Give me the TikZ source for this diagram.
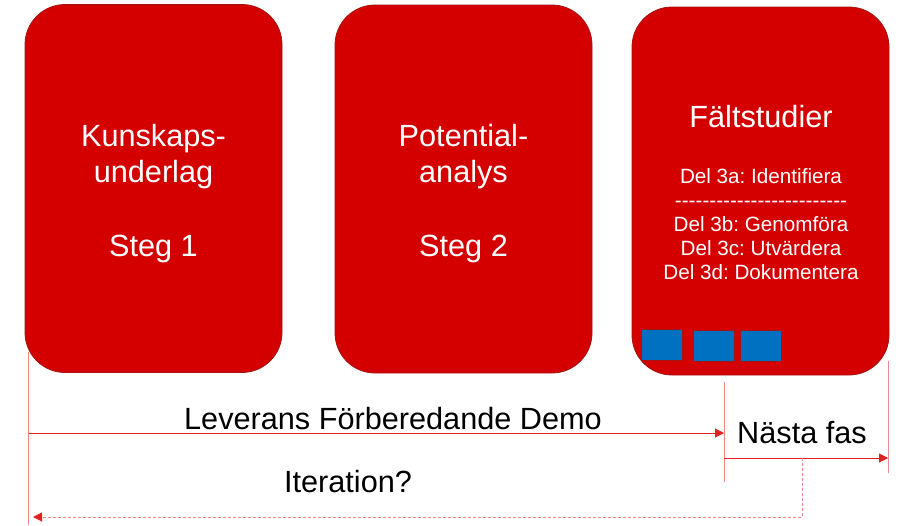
\documentclass[tikz,border=0pt]{standalone}
\usepackage{fontspec}
\setmainfont{Liberation Sans}
\usetikzlibrary{arrows.meta}
\frenchspacing

\definecolor{boxred}{RGB}{212,0,0}
\definecolor{edgered}{RGB}{165,20,20}
\definecolor{linered}{RGB}{226,32,32}
\definecolor{palered}{RGB}{240,135,135}
\definecolor{tileblue}{RGB}{0,112,192}

% row of plain hyphens, kept apart so they do not join into dashes
\newcommand\dashrow{\foreach \d in {1,...,25}{-\kern0pt}}

\tikzset{every picture/.style={line width=0.75pt}}
\tikzset{
  phasebox/.style={draw=edgered, fill=boxred, line width=0.6pt, rounded corners=30pt,
    inner sep=0pt, minimum width=192.75pt, minimum height=276pt},
  tile/.style={draw=edgered, fill=tileblue, line width=0.5pt, inner sep=0pt,
    minimum width=30.5pt, minimum height=23pt},
  bigtext/.style={inner sep=0pt, align=center, font=\fontsize{23pt}{27pt}\selectfont},
  smalltext/.style={inner sep=0pt, align=center, font=\fontsize{15.5pt}{18pt}\selectfont},
  timeline/.style={draw=linered, line width=0.75pt},
  tick/.style={draw=palered, line width=0.75pt},
  iterline/.style={draw=palered, line width=0.75pt, dash pattern=on 2.25pt off 1.5pt},
  tip/.style={-{Triangle[length=6.75pt,width=6.75pt]}}
}

\begin{document}
\begin{tikzpicture}[x=0.75pt,y=0.75pt,yscale=-1,xscale=1]
\useasboundingbox (0,0) rectangle (902,525);

%Timeline coordinates
\coordinate (lvtop) at (28.5,352);
\coordinate (lvbot) at (28.5,525);
\coordinate (demoA) at (28.5,433);
\coordinate (demoB) at (724,433);
\coordinate (midtop) at (724,382);
\coordinate (midbot) at (724,482);
\coordinate (nextA) at (724,458);
\coordinate (nextB) at (888,458);
\coordinate (rtop) at (888,361);
\coordinate (rbot) at (888,473);
\coordinate (iterA) at (802,458);
\coordinate (iterB) at (33,517);

%Straight Lines
\draw [tick] (lvtop) -- (lvbot);
\draw [tick] (midtop) -- (midbot);
\draw [tick] (rtop) -- (rbot);
\draw [timeline, tip] (demoA) -- (demoB);
\draw [timeline, tip] (nextA) -- (nextB);
\draw [iterline, -{Triangle[length=6.75pt,width=6.75pt,color=linered]}] (iterA) |- (iterB);

%Phase boxes
\node [phasebox] (box1) at (153.5,188.5) {};
\node [phasebox] (box2) at (463.5,189) {};
\node [phasebox] (box3) at (760.5,191) {};

%Blue tiles
\node [tile] (tile1) at (662,344.5) {};
\node [tile] (tile2) at (713.5,346) {};
\node [tile] (tile3) at (761,346) {};

% Text Node
\node [bigtext, text=white] (step1) at (153.5,193.5) {Kunskaps-\\underlag\\[29pt]Steg 1};
% Text Node
\node [bigtext, text=white] (step2) at (463.5,193.5) {Potential-\\analys\\[29pt]Steg 2};
% Text Node
\node [bigtext, text=white, anchor=base] (field) at (761,127) {Fältstudier};
% Text Node
\node [smalltext, text=white] (parts) at (761,224) {Del 3a: Identifiera\\\dashrow\\Del 3b: Genomföra\\Del 3c: Utvärdera\\Del 3d: Dokumentera};
% Text Node
\node [bigtext, anchor=base] (demo) at (393,429) {Leverans Förberedande Demo};
% Text Node
\node [bigtext, anchor=base] (next) at (802,443) {Nästa fas};
% Text Node
\node [bigtext, anchor=base] (iter) at (348,492) {Iteration?};

\end{tikzpicture}
\end{document}
